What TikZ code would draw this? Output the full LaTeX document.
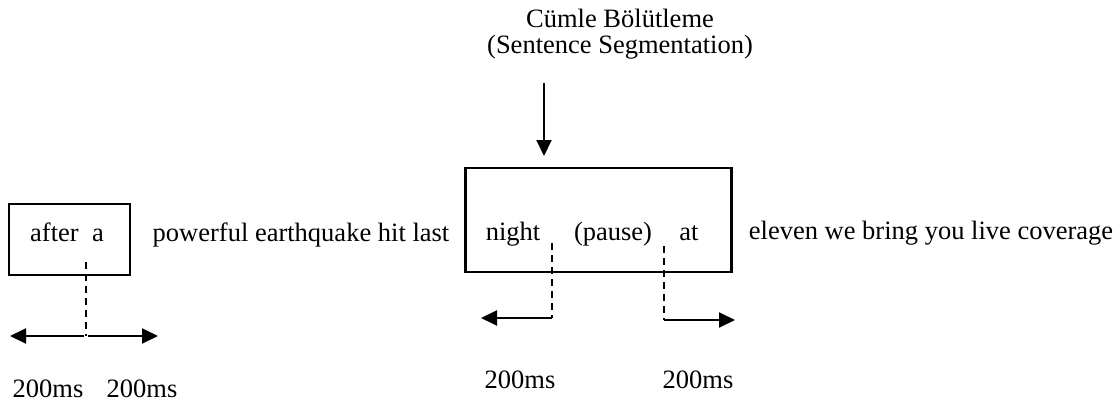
\documentclass[tikz,border=0pt]{standalone}
\usepackage{fontspec}
\setmainfont{Liberation Serif}
\usetikzlibrary{arrows.meta}

\tikzset{
  wordbox/.style={draw, line width=2.8pt, inner sep=0pt},
  word/.style={anchor=base, inner sep=0pt, font=\fontsize{26.5}{31}\selectfont},
  timearrow/.style={-{Triangle[length=16pt,width=15pt]}, line width=2pt},
  cutline/.style={dashed, line width=1.8pt, dash pattern=on 7pt off 5pt}
}

\begin{document}
\begin{tikzpicture}[x=1pt,y=-1pt]
            \useasboundingbox (0,0) rectangle (1120,407);
            % title and arrow
            \node[word] (title1) at (620,27) {Cümle Bölütleme};
            \node[word] (title2) at (620,53) {(Sentence Segmentation)};
            \coordinate (segtop) at (544,83);
            \coordinate (segtip) at (544,156);
            \draw [timearrow] (segtop) -- (segtip);
            % boxes
            \node[wordbox, minimum width=121pt, minimum height=71pt] (smallbox) at (69.5,239.5) {};
            \node[wordbox, minimum width=266pt, minimum height=104pt] (bigbox) at (598.5,220) {};
            % words
            \node[word] (after) at (67,241) {after\ \ a};
            \node[word] (powerful) at (301,241) {powerful earthquake hit last};
            \node[word] (night) at (513,240) {night};
            \node[word] (pause) at (613,240) {(pause)};
            \node[word] (at) at (689,240) {at};
            \node[word] (eleven) at (931,239) {eleven we bring you live coverage};
            % first cut
            \coordinate (cuta) at (86,262);
            \coordinate (cutb) at (86,336);
            \coordinate (lefta) at (10,336);
            \coordinate (righta) at (158,336);
            \draw [cutline] (cuta) -- (cutb);
            \draw [timearrow] ([xshift=-2pt]cutb) -- (lefta);
            \draw [timearrow] ([xshift=2pt]cutb) -- (righta);
            \node[word] (msa) at (48,397) {200ms};
            \node[word] (msb) at (142,397) {200ms};
            % second cut
            \coordinate (cutc) at (552,243);
            \coordinate (cutd) at (552,318);
            \coordinate (leftb) at (481,318);
            \draw [cutline] (cutc) -- (cutd);
            \draw [timearrow] (cutd) -- (leftb);
            \coordinate (cute) at (664,246);
            \coordinate (cutf) at (664,320);
            \coordinate (rightb) at (735,320);
            \draw [cutline] (cute) -- (cutf);
            \draw [timearrow] (cutf) -- (rightb);
            \node[word] (msc) at (520,388) {200ms};
            \node[word] (msd) at (698,388) {200ms};
        \end{tikzpicture}
\end{document}
